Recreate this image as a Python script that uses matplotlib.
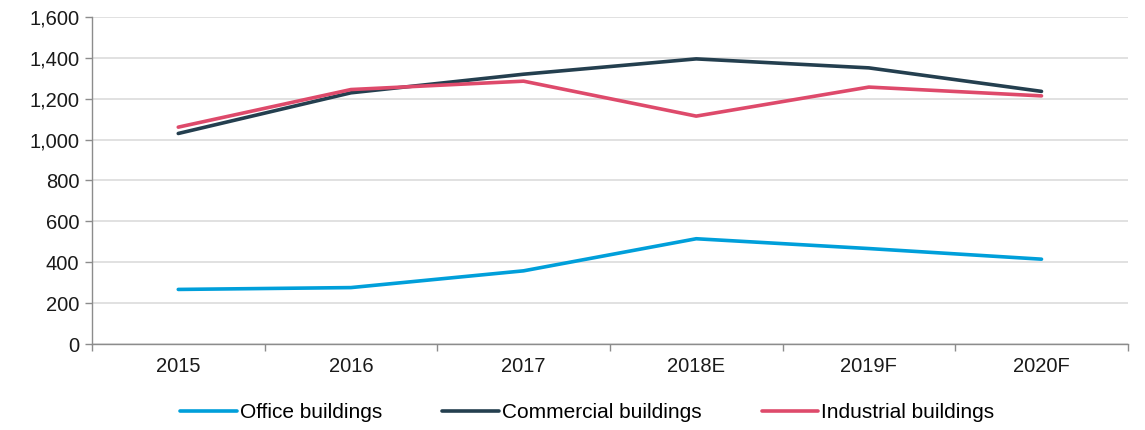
import matplotlib
matplotlib.use("Agg")
import matplotlib.pyplot as plt
import numpy as np

plt.rcParams['font.family'] = ['Liberation Sans', 'DejaVu Sans']

years = ["2015", "2016", "2017", "2018E", "2019F", "2020F"]
office = [267, 276, 358, 515, 467, 415]
commercial = [1030, 1229, 1320, 1395, 1351, 1236]
industrial = [1061, 1245, 1286, 1115, 1257, 1214]

colors = {"office": "#009FDA", "commercial": "#243F4F", "industrial": "#DE4A6B"}

fig = plt.figure(figsize=(11.45, 4.3), dpi=100)
ax = fig.add_axes([0.0803, 0.2, 0.9047, 0.7605])

x = np.arange(len(years))
ax.plot(x, office, color=colors["office"], lw=2.6, label="Office buildings", solid_capstyle="round")
ax.plot(x, commercial, color=colors["commercial"], lw=2.6, label="Commercial buildings", solid_capstyle="round")
ax.plot(x, industrial, color=colors["industrial"], lw=2.6, label="Industrial buildings", solid_capstyle="round")

ax.set_xlim(-0.5, len(years) - 0.5)
ax.set_ylim(0, 1600)
ax.set_yticks(range(0, 1601, 200))
ax.set_yticklabels([f"{v:,}" for v in range(0, 1601, 200)])
ax.grid(axis="y", color="#d9d9d9", lw=1.1)
ax.set_axisbelow(True)

# category boundaries get the tick marks, names sit between them
ax.set_xticks(np.arange(-0.5, len(years)), minor=False)
ax.set_xticklabels([])
ax.set_xticks(x, minor=True)
ax.set_xticklabels(years, minor=True)
ax.tick_params(axis="x", which="major", length=5, color="#8c8c8c", width=1)
ax.tick_params(axis="x", which="minor", length=0, pad=9)
ax.tick_params(axis="y", length=5, color="#8c8c8c", width=1, pad=4)
ax.tick_params(which="both", labelsize=14.5, labelcolor="#1a1a1a")

for side in ["top", "right"]:
    ax.spines[side].set_visible(False)
for side in ["left", "bottom"]:
    ax.spines[side].set_color("#8c8c8c")
    ax.spines[side].set_linewidth(1)

fig.legend(loc="center", bbox_to_anchor=(0.513, 0.04), ncol=3, frameon=False,
           fontsize=15, handlelength=2.7, handletextpad=0.15, columnspacing=2.9)

fig.savefig("out.png", dpi=100)
